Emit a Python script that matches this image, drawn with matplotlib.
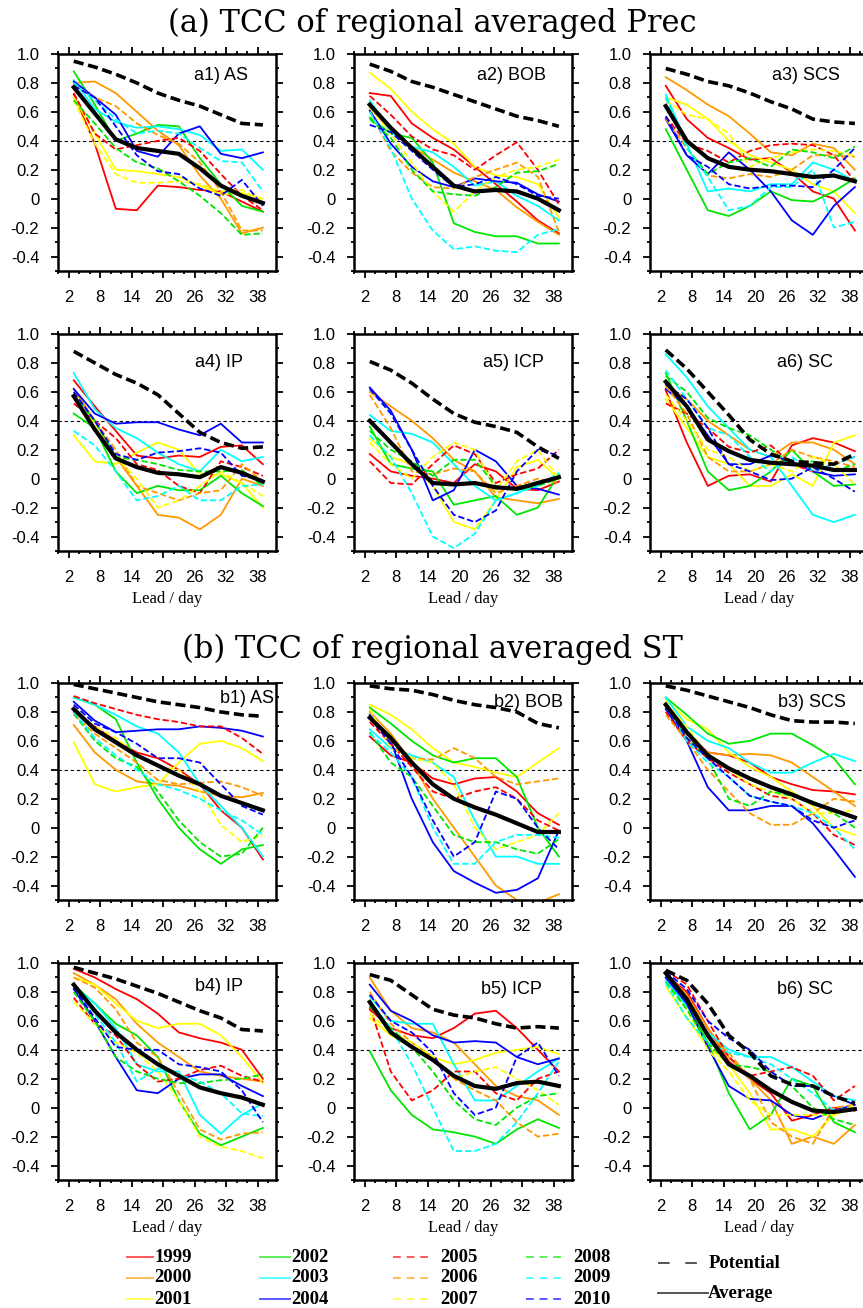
import numpy as np
import matplotlib
matplotlib.use('Agg')
import matplotlib.pyplot as plt
from matplotlib.lines import Line2D
from matplotlib.ticker import MultipleLocator, FixedLocator

lead = [3, 7, 11, 15, 19, 23, 27, 31, 35, 39]
years = ['1999', '2000', '2001', '2002', '2003', '2004',
         '2005', '2006', '2007', '2008', '2009', '2010']
names = ['a1) AS', 'a2) BOB', 'a3) SCS', 'a4) IP', 'a5) ICP', 'a6) SC',
         'b1) AS', 'b2) BOB', 'b3) SCS', 'b4) IP', 'b5) ICP', 'b6) SC']
yticks = [-0.4, -0.2, 0, 0.2, 0.4, 0.6, 0.8, 1.0]
ylabels = ['-0.4', '-0.2', '0', '0.2', '0.4', '0.6', '0.8', '1.0']
xticks = [2, 8, 14, 20, 26, 32, 38]

# ---- (a) precipitation, one row per year 1999..2010
a1_tcc = [
    [0.72, 0.38, -0.07, -0.08, 0.09, 0.08, 0.06, 0.05, -0.02, -0.09],
    [0.80, 0.81, 0.73, 0.60, 0.47, 0.37, 0.16, 0.00, -0.24, -0.20],
    [0.70, 0.45, 0.20, 0.19, 0.17, 0.15, 0.09, 0.03, 0.04, 0.00],
    [0.88, 0.65, 0.40, 0.45, 0.51, 0.50, 0.28, 0.10, -0.05, -0.09],
    [0.82, 0.62, 0.53, 0.49, 0.50, 0.48, 0.44, 0.33, 0.34, 0.20],
    [0.81, 0.70, 0.58, 0.33, 0.29, 0.45, 0.50, 0.31, 0.28, 0.32],
    [0.73, 0.45, 0.34, 0.37, 0.40, 0.42, 0.33, 0.17, 0.02, -0.08],
    [0.79, 0.70, 0.64, 0.52, 0.44, 0.38, 0.25, 0.05, -0.22, -0.22],
    [0.68, 0.38, 0.17, 0.11, 0.11, 0.12, 0.10, 0.05, 0.06, -0.02],
    [0.68, 0.52, 0.35, 0.25, 0.21, 0.12, 0.02, -0.10, -0.25, -0.24],
    [0.80, 0.68, 0.55, 0.45, 0.47, 0.45, 0.35, 0.26, 0.25, 0.05],
    [0.78, 0.70, 0.50, 0.30, 0.19, 0.17, 0.07, 0.02, 0.13, -0.05],
]
a1_pot = [0.95, 0.91, 0.86, 0.80, 0.73, 0.68, 0.64, 0.58, 0.52, 0.51]
a1_avg = [0.77, 0.59, 0.41, 0.35, 0.33, 0.31, 0.21, 0.09, 0.02, -0.03]

a2_tcc = [
    [0.73, 0.71, 0.52, 0.42, 0.34, 0.22, 0.10, -0.02, -0.15, -0.24],
    [0.63, 0.47, 0.36, 0.27, 0.18, 0.12, 0.06, -0.06, -0.16, -0.25],
    [0.87, 0.76, 0.60, 0.48, 0.38, 0.22, 0.16, 0.15, 0.10, -0.13],
    [0.56, 0.45, 0.42, 0.25, -0.17, -0.23, -0.26, -0.26, -0.31, -0.31],
    [0.68, 0.46, 0.36, 0.32, 0.22, 0.09, 0.12, 0.02, -0.05, -0.15],
    [0.61, 0.38, 0.22, 0.12, 0.08, 0.14, 0.12, 0.11, 0.03, -0.02],
    [0.71, 0.58, 0.43, 0.34, 0.30, 0.20, 0.30, 0.39, 0.20, -0.04],
    [0.60, 0.33, 0.18, 0.08, 0.07, 0.15, 0.20, 0.25, 0.15, -0.23],
    [0.63, 0.45, 0.25, 0.05, -0.09, 0.05, 0.15, 0.20, 0.22, 0.27],
    [0.55, 0.42, 0.20, 0.05, 0.03, 0.02, 0.08, 0.18, 0.19, 0.24],
    [0.60, 0.35, 0.00, -0.22, -0.35, -0.33, -0.36, -0.37, -0.25, -0.21],
    [0.51, 0.46, 0.33, 0.20, 0.08, 0.10, 0.15, 0.10, 0.02, 0.00],
]
a2_pot = [0.93, 0.88, 0.81, 0.77, 0.72, 0.67, 0.62, 0.57, 0.54, 0.50]
a2_avg = [0.65, 0.49, 0.35, 0.22, 0.09, 0.05, 0.06, 0.05, 0.00, -0.08]

a3_tcc = [
    [0.78, 0.55, 0.42, 0.35, 0.27, 0.28, 0.18, 0.05, 0.00, -0.22],
    [0.84, 0.75, 0.65, 0.57, 0.45, 0.32, 0.30, 0.38, 0.35, 0.20],
    [0.70, 0.65, 0.55, 0.40, 0.30, 0.25, 0.20, 0.10, 0.05, -0.10],
    [0.48, 0.20, -0.08, -0.12, -0.05, 0.05, -0.01, -0.02, 0.05, 0.14],
    [0.72, 0.38, 0.05, 0.07, 0.05, 0.10, 0.10, 0.25, 0.20, 0.12],
    [0.55, 0.30, 0.17, 0.32, 0.20, 0.05, -0.15, -0.25, -0.05, 0.08],
    [0.57, 0.38, 0.33, 0.25, 0.33, 0.37, 0.38, 0.37, 0.30, 0.12],
    [0.55, 0.35, 0.16, 0.14, 0.17, 0.15, 0.20, 0.30, 0.30, 0.29],
    [0.68, 0.58, 0.55, 0.45, 0.22, 0.28, 0.32, 0.34, 0.33, 0.30],
    [0.70, 0.35, 0.17, 0.25, 0.28, 0.22, 0.34, 0.32, 0.28, 0.36],
    [0.70, 0.35, 0.15, -0.08, -0.05, 0.08, 0.08, 0.20, -0.20, -0.16],
    [0.57, 0.30, 0.22, 0.10, 0.07, 0.09, 0.09, 0.08, 0.20, 0.35],
]
a3_pot = [0.90, 0.86, 0.81, 0.78, 0.73, 0.67, 0.62, 0.55, 0.53, 0.52]
a3_avg = [0.64, 0.40, 0.28, 0.22, 0.20, 0.19, 0.17, 0.15, 0.16, 0.12]

a4_tcc = [
    [0.68, 0.50, 0.33, 0.16, 0.14, 0.16, 0.15, 0.22, 0.23, 0.10],
    [0.62, 0.40, 0.15, -0.05, -0.25, -0.27, -0.35, -0.25, 0.00, -0.05],
    [0.30, 0.12, 0.10, 0.18, 0.25, 0.20, 0.03, 0.03, -0.03, -0.20],
    [0.45, 0.35, 0.05, -0.10, -0.05, -0.08, -0.08, 0.02, -0.10, -0.19],
    [0.73, 0.48, 0.35, 0.28, 0.18, 0.10, 0.05, 0.20, 0.12, 0.15],
    [0.62, 0.45, 0.38, 0.39, 0.39, 0.34, 0.30, 0.38, 0.25, 0.25],
    [0.52, 0.40, 0.28, 0.10, 0.06, -0.05, -0.10, 0.12, 0.08, 0.02],
    [0.60, 0.40, 0.20, -0.05, -0.10, -0.15, -0.10, -0.08, 0.10, -0.02],
    [0.58, 0.38, 0.15, 0.00, -0.20, -0.15, -0.05, 0.05, -0.03, -0.12],
    [0.58, 0.40, 0.15, 0.13, 0.10, 0.06, 0.05, 0.05, 0.06, -0.05],
    [0.33, 0.23, 0.05, -0.15, -0.12, -0.05, -0.15, -0.15, -0.05, -0.04],
    [0.60, 0.40, 0.17, 0.13, 0.18, 0.19, 0.21, 0.18, 0.02, -0.01],
]
a4_pot = [0.88, 0.80, 0.72, 0.66, 0.58, 0.45, 0.32, 0.25, 0.21, 0.22]
a4_avg = [0.57, 0.34, 0.14, 0.08, 0.04, 0.03, 0.01, 0.08, 0.04, -0.02]

a5_tcc = [
    [0.17, 0.05, 0.02, 0.00, -0.03, 0.10, 0.05, -0.07, -0.08, -0.02],
    [0.60, 0.50, 0.40, 0.28, 0.13, 0.05, -0.13, -0.15, -0.17, -0.14],
    [0.28, 0.15, 0.10, -0.05, -0.30, -0.35, -0.15, 0.08, 0.13, 0.00],
    [0.36, 0.10, 0.07, 0.05, -0.18, -0.15, -0.12, -0.25, -0.20, 0.03],
    [0.44, 0.33, 0.31, 0.25, 0.10, -0.05, -0.15, -0.10, -0.03, 0.02],
    [0.63, 0.47, 0.20, -0.15, -0.08, 0.20, 0.12, -0.05, -0.07, -0.11],
    [0.12, -0.03, -0.04, 0.10, 0.23, 0.17, -0.03, 0.03, 0.07, 0.20],
    [0.58, 0.35, 0.05, 0.03, 0.07, 0.05, -0.10, -0.05, 0.00, -0.03],
    [0.25, 0.10, 0.00, 0.15, 0.25, 0.20, -0.08, 0.12, 0.20, 0.00],
    [0.33, 0.20, 0.12, 0.02, 0.13, 0.13, -0.05, -0.08, -0.05, 0.00],
    [0.30, 0.15, -0.10, -0.40, -0.48, -0.38, -0.15, -0.10, -0.05, 0.04],
    [0.62, 0.45, 0.20, -0.05, -0.25, -0.30, -0.22, 0.05, 0.20, 0.16],
]
a5_pot = [0.81, 0.75, 0.66, 0.55, 0.45, 0.39, 0.36, 0.32, 0.22, 0.14]
a5_avg = [0.40, 0.25, 0.10, -0.03, -0.04, -0.03, -0.06, -0.07, -0.03, 0.01]

a6_tcc = [
    [0.61, 0.25, -0.05, 0.02, 0.03, -0.02, 0.23, 0.28, 0.25, 0.19],
    [0.65, 0.55, 0.40, 0.30, 0.20, 0.15, 0.25, 0.25, 0.20, 0.10],
    [0.55, 0.35, 0.15, 0.10, -0.05, -0.05, 0.03, -0.05, 0.25, 0.30],
    [0.73, 0.40, 0.05, -0.08, -0.05, 0.05, 0.20, 0.05, -0.05, -0.04],
    [0.86, 0.70, 0.50, 0.35, 0.20, 0.15, -0.05, -0.25, -0.30, -0.25],
    [0.62, 0.50, 0.30, 0.10, 0.10, 0.16, 0.12, 0.05, 0.02, 0.03],
    [0.52, 0.45, 0.35, 0.22, 0.18, 0.23, 0.10, 0.05, 0.10, 0.15],
    [0.64, 0.45, 0.15, 0.05, 0.05, 0.10, 0.20, 0.15, 0.12, 0.08],
    [0.58, 0.40, 0.20, 0.15, 0.05, 0.10, 0.05, 0.15, 0.10, -0.04],
    [0.71, 0.60, 0.42, 0.35, 0.30, 0.20, 0.10, 0.12, 0.05, 0.10],
    [0.75, 0.55, 0.35, 0.30, 0.15, 0.05, 0.15, 0.05, 0.10, 0.15],
    [0.65, 0.55, 0.35, 0.10, 0.05, -0.01, 0.00, 0.08, 0.00, -0.09],
]
a6_pot = [0.89, 0.76, 0.60, 0.44, 0.27, 0.17, 0.12, 0.11, 0.10, 0.17]
a6_avg = [0.67, 0.50, 0.27, 0.19, 0.13, 0.11, 0.10, 0.09, 0.06, 0.06]

# ---- (b) surface temperature
b1_tcc = [
    [0.80, 0.70, 0.60, 0.52, 0.48, 0.40, 0.30, 0.12, 0.00, -0.22],
    [0.71, 0.52, 0.40, 0.32, 0.30, 0.29, 0.25, 0.22, 0.21, 0.24],
    [0.59, 0.30, 0.25, 0.28, 0.30, 0.45, 0.58, 0.60, 0.55, 0.46],
    [0.90, 0.85, 0.75, 0.45, 0.20, 0.00, -0.15, -0.25, -0.15, -0.12],
    [0.90, 0.85, 0.78, 0.70, 0.65, 0.52, 0.30, 0.15, 0.00, -0.20],
    [0.87, 0.74, 0.66, 0.67, 0.68, 0.68, 0.70, 0.69, 0.67, 0.63],
    [0.91, 0.86, 0.82, 0.78, 0.75, 0.73, 0.70, 0.70, 0.62, 0.51],
    [0.78, 0.65, 0.55, 0.45, 0.33, 0.30, 0.31, 0.32, 0.28, 0.22],
    [0.80, 0.70, 0.62, 0.50, 0.42, 0.40, 0.25, 0.02, -0.10, -0.05],
    [0.79, 0.60, 0.48, 0.42, 0.25, 0.05, -0.10, -0.20, -0.18, 0.00],
    [0.80, 0.62, 0.50, 0.40, 0.30, 0.26, 0.20, 0.12, 0.05, -0.05],
    [0.85, 0.72, 0.66, 0.58, 0.48, 0.48, 0.45, 0.30, 0.15, 0.09],
]
b1_pot = [0.99, 0.96, 0.93, 0.90, 0.87, 0.85, 0.83, 0.80, 0.78, 0.77]
b1_avg = [0.82, 0.68, 0.59, 0.50, 0.43, 0.36, 0.30, 0.22, 0.17, 0.12]

b2_tcc = [
    [0.63, 0.50, 0.45, 0.34, 0.30, 0.34, 0.35, 0.25, 0.10, 0.02],
    [0.80, 0.65, 0.45, 0.20, 0.00, -0.20, -0.40, -0.50, -0.52, -0.46],
    [0.85, 0.78, 0.68, 0.55, 0.45, 0.42, 0.38, 0.35, 0.45, 0.55],
    [0.83, 0.72, 0.60, 0.50, 0.45, 0.48, 0.48, 0.35, 0.00, -0.20],
    [0.68, 0.55, 0.50, 0.45, 0.35, 0.05, -0.20, -0.20, -0.25, -0.25],
    [0.78, 0.60, 0.20, -0.10, -0.30, -0.38, -0.45, -0.43, -0.35, -0.02],
    [0.73, 0.58, 0.42, 0.25, 0.20, 0.25, 0.28, 0.20, 0.05, -0.02],
    [0.75, 0.60, 0.48, 0.47, 0.55, 0.48, 0.35, 0.30, 0.32, 0.34],
    [0.82, 0.55, 0.48, 0.45, 0.30, 0.00, -0.15, -0.10, -0.05, 0.10],
    [0.66, 0.45, 0.35, 0.15, -0.05, -0.10, -0.10, -0.15, -0.18, -0.08],
    [0.65, 0.52, 0.35, 0.00, -0.25, -0.25, -0.10, -0.05, -0.05, -0.07],
    [0.76, 0.58, 0.35, 0.05, -0.20, -0.10, 0.25, 0.20, 0.00, -0.15],
]
b2_pot = [0.98, 0.96, 0.95, 0.92, 0.88, 0.85, 0.83, 0.80, 0.72, 0.69]
b2_avg = [0.76, 0.62, 0.45, 0.30, 0.20, 0.14, 0.09, 0.03, -0.03, -0.03]

b3_tcc = [
    [0.86, 0.65, 0.52, 0.50, 0.45, 0.35, 0.30, 0.26, 0.25, 0.23],
    [0.85, 0.62, 0.52, 0.50, 0.51, 0.50, 0.45, 0.35, 0.25, 0.15],
    [0.88, 0.75, 0.68, 0.52, 0.42, 0.35, 0.25, 0.15, 0.00, -0.05],
    [0.90, 0.78, 0.65, 0.58, 0.60, 0.65, 0.65, 0.57, 0.48, 0.30],
    [0.90, 0.70, 0.60, 0.55, 0.45, 0.38, 0.38, 0.45, 0.51, 0.46],
    [0.82, 0.60, 0.28, 0.12, 0.12, 0.15, 0.15, 0.03, -0.15, -0.34],
    [0.80, 0.60, 0.48, 0.38, 0.30, 0.22, 0.20, 0.10, -0.05, -0.12],
    [0.78, 0.60, 0.40, 0.25, 0.10, 0.02, 0.02, 0.10, 0.20, 0.18],
    [0.86, 0.70, 0.50, 0.40, 0.30, 0.25, 0.20, 0.10, 0.10, 0.12],
    [0.85, 0.62, 0.48, 0.20, 0.15, 0.25, 0.22, 0.18, 0.10, 0.00],
    [0.85, 0.60, 0.45, 0.35, 0.22, 0.18, 0.15, 0.10, 0.00, -0.15],
    [0.84, 0.62, 0.48, 0.35, 0.22, 0.18, 0.15, 0.05, 0.00, 0.05],
]
b3_pot = [0.98, 0.95, 0.91, 0.87, 0.83, 0.78, 0.74, 0.73, 0.73, 0.72]
b3_avg = [0.85, 0.66, 0.50, 0.41, 0.34, 0.28, 0.23, 0.17, 0.12, 0.07]

b4_tcc = [
    [0.96, 0.90, 0.82, 0.75, 0.65, 0.52, 0.48, 0.45, 0.40, 0.20],
    [0.93, 0.85, 0.75, 0.58, 0.45, 0.35, 0.25, 0.22, 0.20, 0.18],
    [0.90, 0.85, 0.72, 0.60, 0.55, 0.58, 0.58, 0.50, 0.35, 0.17],
    [0.85, 0.72, 0.58, 0.50, 0.35, 0.05, -0.18, -0.26, -0.20, -0.14],
    [0.84, 0.72, 0.55, 0.30, 0.25, 0.25, -0.05, -0.18, -0.05, 0.03],
    [0.82, 0.60, 0.35, 0.12, 0.10, 0.20, 0.23, 0.23, 0.15, 0.08],
    [0.76, 0.58, 0.50, 0.30, 0.18, 0.20, 0.26, 0.29, 0.22, 0.18],
    [0.90, 0.83, 0.68, 0.45, 0.35, 0.10, -0.15, -0.22, -0.18, -0.17],
    [0.73, 0.58, 0.45, 0.38, 0.25, 0.05, -0.20, -0.27, -0.30, -0.35],
    [0.80, 0.60, 0.35, 0.25, 0.20, 0.17, 0.17, 0.19, 0.20, 0.23],
    [0.85, 0.65, 0.45, 0.18, 0.27, 0.23, 0.18, 0.10, -0.04, -0.06],
    [0.83, 0.62, 0.42, 0.40, 0.40, 0.30, 0.28, 0.25, 0.12, -0.10],
]
b4_pot = [0.97, 0.93, 0.89, 0.84, 0.79, 0.73, 0.67, 0.62, 0.54, 0.53]
b4_avg = [0.85, 0.67, 0.52, 0.40, 0.30, 0.22, 0.14, 0.10, 0.07, 0.02]

b5_tcc = [
    [0.68, 0.55, 0.50, 0.48, 0.55, 0.65, 0.67, 0.55, 0.40, 0.25],
    [0.90, 0.67, 0.55, 0.52, 0.45, 0.30, 0.15, 0.08, 0.05, -0.05],
    [0.62, 0.50, 0.42, 0.35, 0.30, 0.33, 0.38, 0.40, 0.42, 0.37],
    [0.39, 0.12, -0.05, -0.15, -0.17, -0.20, -0.25, -0.15, -0.08, -0.14],
    [0.77, 0.60, 0.58, 0.58, 0.30, 0.05, 0.05, 0.15, 0.25, 0.34],
    [0.85, 0.67, 0.60, 0.50, 0.45, 0.46, 0.45, 0.35, 0.30, 0.34],
    [0.70, 0.25, 0.05, 0.12, 0.25, 0.25, 0.10, 0.05, 0.20, 0.25],
    [0.80, 0.58, 0.45, 0.35, 0.20, 0.12, 0.05, -0.10, -0.20, -0.18],
    [0.65, 0.52, 0.45, 0.35, 0.20, 0.25, 0.28, 0.20, 0.12, 0.02],
    [0.70, 0.55, 0.42, 0.25, 0.05, -0.08, -0.12, 0.00, 0.08, 0.10],
    [0.74, 0.55, 0.30, 0.00, -0.30, -0.30, -0.25, -0.10, 0.10, 0.32],
    [0.78, 0.60, 0.52, 0.38, 0.10, -0.05, 0.00, 0.35, 0.45, 0.22],
]
b5_pot = [0.92, 0.88, 0.78, 0.68, 0.64, 0.62, 0.58, 0.55, 0.56, 0.55]
b5_avg = [0.73, 0.52, 0.42, 0.33, 0.22, 0.15, 0.13, 0.17, 0.18, 0.15]

b6_tcc = [
    [0.92, 0.80, 0.55, 0.32, 0.20, 0.10, -0.09, -0.05, 0.00, -0.02],
    [0.93, 0.78, 0.55, 0.35, 0.20, 0.05, -0.25, -0.20, -0.25, -0.12],
    [0.84, 0.62, 0.42, 0.30, 0.10, -0.15, -0.15, -0.20, -0.05, 0.00],
    [0.90, 0.72, 0.45, 0.10, -0.15, -0.05, 0.20, 0.15, -0.10, -0.17],
    [0.88, 0.70, 0.52, 0.40, 0.35, 0.35, 0.28, 0.18, 0.08, 0.05],
    [0.90, 0.72, 0.42, 0.15, 0.06, 0.05, -0.05, -0.08, -0.02, 0.02],
    [0.95, 0.85, 0.60, 0.35, 0.22, 0.25, 0.28, 0.22, 0.05, 0.15],
    [0.92, 0.75, 0.50, 0.38, 0.20, -0.10, -0.20, -0.25, 0.00, 0.02],
    [0.86, 0.68, 0.40, 0.25, 0.05, -0.05, -0.05, -0.05, -0.05, 0.02],
    [0.87, 0.68, 0.45, 0.30, 0.28, 0.25, 0.15, 0.00, -0.08, -0.12],
    [0.86, 0.62, 0.45, 0.38, 0.35, 0.30, 0.20, 0.10, -0.02, 0.00],
    [0.94, 0.82, 0.60, 0.48, 0.40, 0.25, 0.15, 0.15, 0.08, 0.02],
]
b6_pot = [0.95, 0.88, 0.72, 0.50, 0.38, 0.22, 0.16, 0.15, 0.08, 0.03]
b6_avg = [0.93, 0.75, 0.50, 0.30, 0.22, 0.12, 0.04, -0.02, -0.03, -0.01]

tcc = [a1_tcc, a2_tcc, a3_tcc, a4_tcc, a5_tcc, a6_tcc,
       b1_tcc, b2_tcc, b3_tcc, b4_tcc, b5_tcc, b6_tcc]
pot = [a1_pot, a2_pot, a3_pot, a4_pot, a5_pot, a6_pot,
       b1_pot, b2_pot, b3_pot, b4_pot, b5_pot, b6_pot]
avg = [a1_avg, a2_avg, a3_avg, a4_avg, a5_avg, a6_avg,
       b1_avg, b2_avg, b3_avg, b4_avg, b5_avg, b6_avg]

colors = ['#ff0000', '#ff9900', '#ffff00', '#00e600', '#00ffff', '#0000ff']
year_dash = (0, (3.5, 1.6))

W, H = 863, 1308
fig = plt.figure(figsize=(W/100, H/100), dpi=100)

col_left = [58, 354, 650]
row_top = [54, 334, 683, 963]
aw, ah = 218, 217
# panel label anchor (right edge, y) in axes fraction
lab_pos = [(0.87, 0.90), (0.88, 0.90), (0.87, 0.90),
           (0.85, 0.87), (0.87, 0.87), (0.84, 0.87),
           (0.99, 0.93), (0.96, 0.91), (0.90, 0.91),
           (0.85, 0.89), (0.86, 0.88), (0.84, 0.88)]

tickfont = 'Liberation Sans'

for k in range(12):
    r, c = k // 3, k % 3
    ax = fig.add_axes([col_left[c]/W, 1 - (row_top[r] + ah)/H, aw/W, ah/H])
    ax.axhline(0.4, color='k', lw=0.8, ls=(0, (3, 2.5)), zorder=1)
    for i in range(12):
        ls = '-' if i < 6 else year_dash
        ax.plot(lead, tcc[k][i], color=colors[i % 6], lw=1.3, ls=ls, zorder=2)
    ax.plot(lead, pot[k], color='k', lw=2.6, ls=(0, (2.8, 1.3)), zorder=3)
    ax.plot(lead, avg[k], color='k', lw=3.0, zorder=4)

    ax.set_xlim(0, 41.5)
    ax.set_ylim(-0.5, 1.0)
    ax.xaxis.set_major_locator(FixedLocator(xticks))
    ax.xaxis.set_minor_locator(MultipleLocator(2))
    ax.yaxis.set_major_locator(FixedLocator(yticks))
    ax.yaxis.set_minor_locator(MultipleLocator(0.1))
    ax.set_yticklabels(ylabels)
    ax.tick_params(which='both', direction='out', top=True, right=True, width=1.3)
    ax.tick_params(which='major', length=5, labelsize=12)
    ax.tick_params(which='minor', length=2.5)
    ax.tick_params(axis='x', which='major', pad=9)
    ax.tick_params(axis='y', which='major', pad=8.5)
    for t in ax.get_xticklabels() + ax.get_yticklabels():
        t.set_fontfamily(tickfont)
    for s in ax.spines.values():
        s.set_linewidth(1.8)
    lx, ly = lab_pos[k]
    ax.text(lx, ly, names[k], transform=ax.transAxes, ha='right', va='center',
            fontsize=13, family=tickfont)
    if r in (1, 3):
        ax.set_xlabel('Lead / day', fontsize=12, family='Liberation Serif', labelpad=4)

fig.text(432/W, 1 - 23/H, '(a) TCC of regional averaged Prec', ha='center', va='center',
         fontsize=22, family='DejaVu Serif')
fig.text(432/W, 1 - 649/H, '(b) TCC of regional averaged ST', ha='center', va='center',
         fontsize=22, family='DejaVu Serif')

# legend keys along the bottom
leg_rows = [1257, 1278, 1299]
leg_cols = [(127, 153), (260, 290), (393, 433), (526, 566)]
for i, yr in enumerate(years):
    col, row = i // 3, i % 3
    x0, x1 = leg_cols[col]
    y = 1 - leg_rows[row]/H
    ls = '-' if i < 6 else (0, (4, 3))
    fig.add_artist(Line2D([x0/W, x1/W], [y, y], color=colors[i % 6], lw=1.4,
                          ls=ls, alpha=0.65))
    tx = x1 + 1 if i < 6 else x1 + 7
    fig.text(tx/W, y, yr, ha='left', va='center', fontsize=13.5,
             fontweight='bold', family='Liberation Serif')

fig.add_artist(Line2D([658/W, 698/W], [1 - 1263/H, 1 - 1263/H], color='#555555',
                      lw=1.4, ls=(0, (6, 8))))
fig.text(709/W, 1 - 1263/H, 'Potential', ha='left', va='center', fontsize=13.5,
         fontweight='bold', family='Liberation Serif')
fig.add_artist(Line2D([658/W, 708/W], [1 - 1293/H, 1 - 1293/H], color='#555555', lw=1.4))
fig.text(708/W, 1 - 1293/H, 'Average', ha='left', va='center', fontsize=13.5,
         fontweight='bold', family='Liberation Serif')

fig.savefig('out.png', dpi=100)
